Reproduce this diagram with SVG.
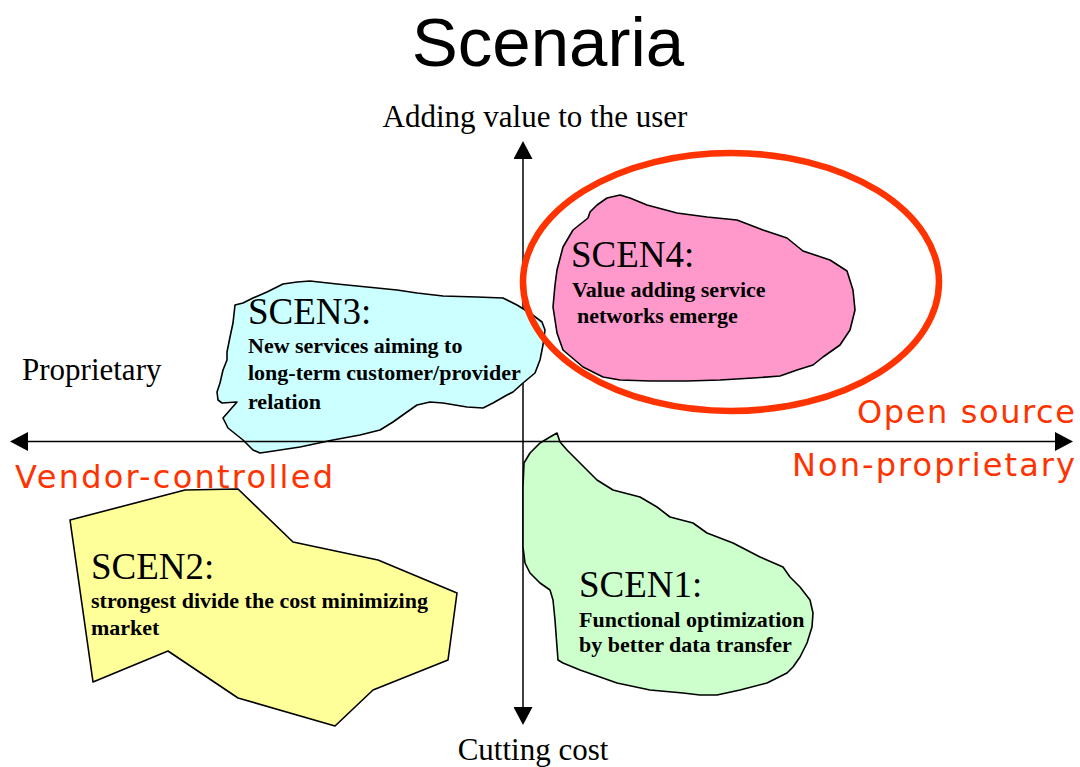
<svg xmlns="http://www.w3.org/2000/svg" width="1080" height="767" viewBox="0 0 1080 767">
  <style>
    .title { font-family: "Liberation Sans", Arial, sans-serif; font-size: 69px; fill: #000; }
    .axis-label { font-family: "Liberation Serif", "Times New Roman", serif; font-size: 31px; fill: #000; }
    .pole { font-family: "DejaVu Sans", Verdana, sans-serif; font-size: 32px; fill: #FF3300; }
    .scen-title { font-family: "Liberation Serif", "Times New Roman", serif; font-size: 37px; fill: #000; }
    .scen-body { font-family: "Liberation Serif", "Times New Roman", serif; font-size: 22px; font-weight: bold; fill: #000; }
    .blob { stroke: #000; stroke-width: 1.6; stroke-linejoin: round; }
    .axis { stroke: #000; stroke-width: 1.5; fill: none; }
  </style>
  <defs>
    <marker id="arrow" viewBox="0 0 18 19" refX="0" refY="9.5" markerWidth="18" markerHeight="19" markerUnits="userSpaceOnUse" orient="auto">
      <path d="M0,0 L18,9.5 L0,19 Z" fill="#000"/>
    </marker>
  </defs>

  <rect width="1080" height="767" fill="#fff"/>

  <text class="title" x="548" y="66" text-anchor="middle">Scenaria</text>

  <!-- vertical axis sits beneath the scenario shapes -->
  <g id="connectors-vertical">
    <line class="axis" x1="523" y1="432" x2="523" y2="159" marker-end="url(#arrow)"/>
    <line class="axis" x1="523" y1="432" x2="523" y2="707" marker-end="url(#arrow)"/>
  </g>

  <g id="scen3">
    <polygon class="blob" fill="#CCFFFF" points="235,305 243,303 253,298 267,292 283,284 297,282 310,281 337,284 367,287 397,290 417,293 443,296 477,297 503,298 517,305 530,313 542,322 545,330 543,345 540,360 535,373 523,383 513,392 507,395 493,403 483,408 467,407 443,403 430,402 417,405 407,412 393,422 380,430 360,435 333,440 300,447 267,452 260,453 253,450 243,440 228,428 223,418 237,402 222,403 218,400 217,392 220,383 223,370 227,360 227,352 230,337 233,323"/>
    <text class="scen-title" x="248" y="324">SCEN3:</text>
    <text class="scen-body" x="248" y="353">New services aiming to</text>
    <text class="scen-body" x="248" y="380">long-term customer/provider</text>
    <text class="scen-body" x="248" y="409">relation</text>
  </g>

  <g id="scen4">
    <polygon class="blob" fill="#FF99CC" points="588,218 590,212 597,205 607,198 620,195 630,198 647,205 677,213 707,217 737,220 763,230 787,238 803,251 830,260 847,271 853,290 855,310 850,330 840,345 823,357 813,365 797,370 780,376 753,378 720,380 687,381 650,381 620,380 603,377 583,367 563,350 557,333 553,307 555,285 557,270 563,247 573,230 583,222"/>
    <text class="scen-title" x="571" y="267">SCEN4:</text>
    <text class="scen-body" x="572" y="297">Value adding service</text>
    <text class="scen-body" x="577" y="323">networks emerge</text>
  </g>

  <g id="scen2">
    <polygon class="blob" fill="#FFFF99" points="70,520 185,490 238,489 293,542 378,560 457,593 448,660 373,690 335,726 238,698 168,651 93,682"/>
    <text class="scen-title" x="91" y="579">SCEN2:</text>
    <text class="scen-body" x="91" y="608">strongest divide the cost minimizing</text>
    <text class="scen-body" x="91" y="635">market</text>
  </g>

  <g id="scen1">
    <polygon class="blob" fill="#CCFFCC" points="557,433 560,442 567,450 580,463 597,480 613,490 640,497 657,507 670,517 693,523 707,533 733,543 760,557 783,567 790,577 800,587 810,600 813,613 812,627 807,643 800,657 793,667 787,673 767,683 740,690 717,695 700,695 683,693 650,690 617,683 600,677 580,670 563,663 558,660 557,647 555,620 553,600 550,590 540,583 530,573 525,563 523,547 523,520 523,487 524,463 530,453 540,443 550,437"/>
    <text class="scen-title" x="579" y="597">SCEN1:</text>
    <text class="scen-body" x="579" y="627">Functional optimization</text>
    <text class="scen-body" x="579" y="652">by better data transfer</text>
  </g>

  <!-- horizontal axis drawn over the shapes -->
  <g id="connectors-horizontal">
    <line class="axis" x1="540" y1="441.5" x2="28" y2="441.5" marker-end="url(#arrow)"/>
    <line class="axis" x1="540" y1="441.5" x2="1055" y2="441.5" marker-end="url(#arrow)"/>
  </g>

  <g id="highlight">
    <ellipse cx="731" cy="282" rx="208" ry="129" fill="none" stroke="#FF3300" stroke-width="6.5"/>
  </g>

  <g id="axis-labels">
    <text class="axis-label" x="535" y="127" text-anchor="middle">Adding value to the user</text>
    <text class="axis-label" x="533" y="760" text-anchor="middle">Cutting cost</text>
    <text class="axis-label" x="22" y="380">Proprietary</text>
    <text class="pole" x="857" y="423" textLength="218" lengthAdjust="spacing">Open source</text>
    <text class="pole" x="792" y="476" textLength="283" lengthAdjust="spacing">Non-proprietary</text>
    <text class="pole" x="15" y="488" textLength="318" lengthAdjust="spacing">Vendor-controlled</text>
  </g>
</svg>
